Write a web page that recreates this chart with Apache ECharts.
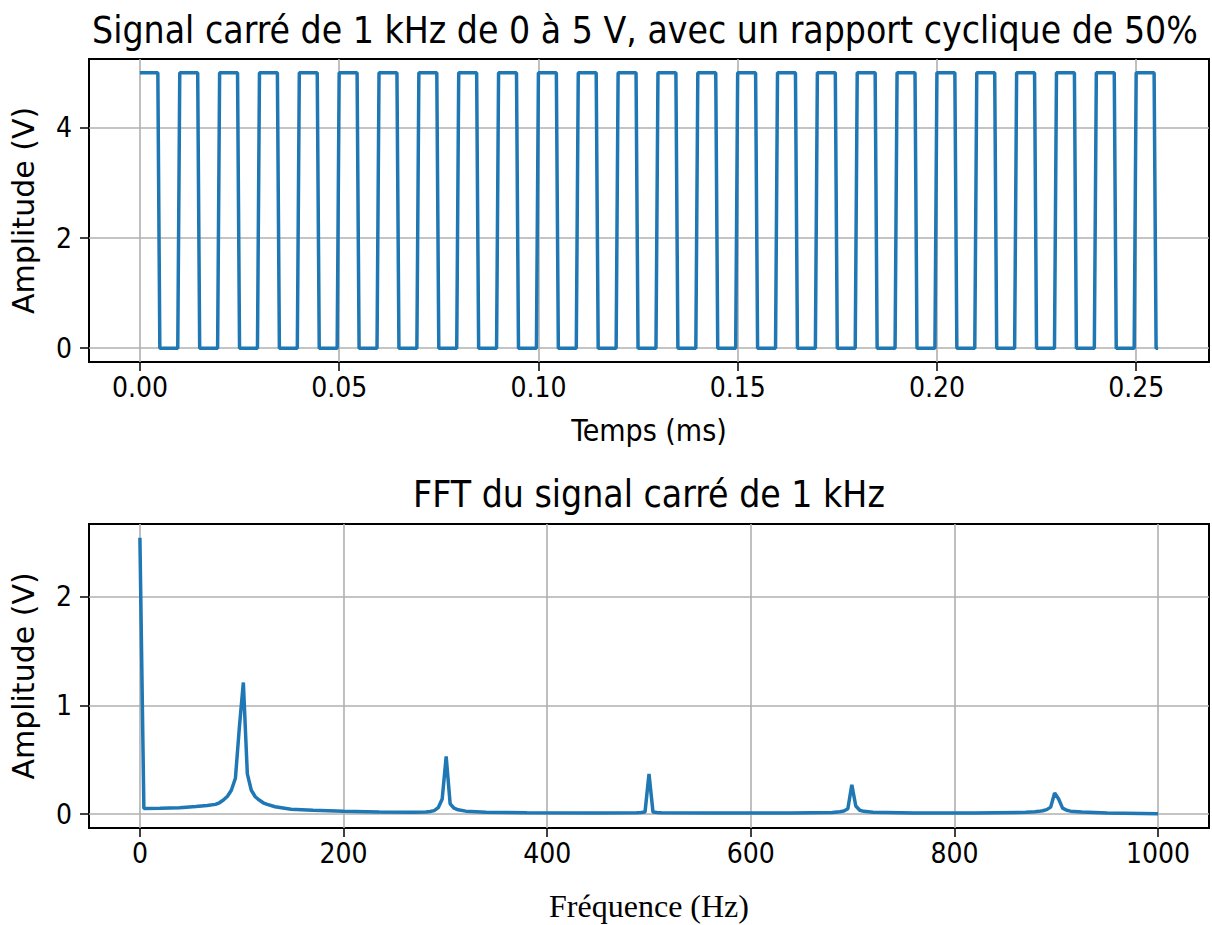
<!DOCTYPE html>
<html>
<head>
<meta charset="utf-8">
<script src="https://cdn.jsdelivr.net/npm/echarts@6/dist/echarts.min.js"></script>
<style>
  html, body { margin: 0; padding: 0; background: #fff; }
  #chart { width: 1212px; height: 925px; }
</style>
</head>
<body>
<div id="chart"></div>
<script>
// --- signal carré : coins de la courbe (temps en ms, tension en V)
const tempsMs = [
  0, 0.0045, 0.005, 0.0095,   0.01, 0.0145, 0.015, 0.0195,
  0.02, 0.0245, 0.025, 0.0295, 0.03, 0.0345, 0.035, 0.0395,
  0.04, 0.0445, 0.045, 0.0495, 0.05, 0.0545, 0.055, 0.0595,
  0.06, 0.0645, 0.065, 0.0695, 0.07, 0.0745, 0.075, 0.0795,
  0.08, 0.0845, 0.085, 0.0895, 0.09, 0.0945, 0.095, 0.0995,
  0.10, 0.1045, 0.105, 0.1095, 0.11, 0.1145, 0.115, 0.1195,
  0.12, 0.1245, 0.125, 0.1295, 0.13, 0.1345, 0.135, 0.1395,
  0.14, 0.1445, 0.145, 0.1495, 0.15, 0.1545, 0.155, 0.1595,
  0.16, 0.1645, 0.165, 0.1695, 0.17, 0.1745, 0.175, 0.1795,
  0.18, 0.1845, 0.185, 0.1895, 0.19, 0.1945, 0.195, 0.1995,
  0.20, 0.2045, 0.205, 0.2095, 0.21, 0.2145, 0.215, 0.2195,
  0.22, 0.2245, 0.225, 0.2295, 0.23, 0.2345, 0.235, 0.2395,
  0.24, 0.2445, 0.245, 0.2495, 0.25, 0.2545, 0.255, 0.2555
];
const tensionV = [
  5, 5, 0, 0, 5, 5, 0, 0,
  5, 5, 0, 0, 5, 5, 0, 0,
  5, 5, 0, 0, 5, 5, 0, 0,
  5, 5, 0, 0, 5, 5, 0, 0,
  5, 5, 0, 0, 5, 5, 0, 0,
  5, 5, 0, 0, 5, 5, 0, 0,
  5, 5, 0, 0, 5, 5, 0, 0,
  5, 5, 0, 0, 5, 5, 0, 0,
  5, 5, 0, 0, 5, 5, 0, 0,
  5, 5, 0, 0, 5, 5, 0, 0,
  5, 5, 0, 0, 5, 5, 0, 0,
  5, 5, 0, 0, 5, 5, 0, 0,
  5, 5, 0, 0, 5, 5, 0, 0
];
const ticksTemps = [0, 0.05, 0.1, 0.15, 0.2, 0.25];
const ticksTension = [0, 2, 4];

// --- spectre (FFT)
const frequencesHz = [
  0, 3.9, 20, 39, 55, 66, 74.2, 78.1, 82, 86,
  89.8, 93.8, 97.7, 101.6, 105.5, 109.4, 113.3, 117.2, 121.1, 125,
  132.8, 148.4, 170, 200, 235, 268, 281, 285, 289, 293,
  296.9, 300.8, 304.7, 308.6, 312.5, 320, 340, 380, 450, 488,
  492.2, 496.1, 500, 503.9, 507.8, 512, 560, 640, 680, 687.5,
  691.4, 695.3, 699.2, 703.1, 707, 710.9, 720, 760, 820, 870,
  879, 883, 886.7, 890.6, 894.5, 898.4, 902.3, 906.2, 910.2, 914,
  925, 950, 1000
];
const amplitudesFft = [
  2.54, 0.052, 0.054, 0.06, 0.07, 0.08, 0.09, 0.105, 0.13, 0.165,
  0.22, 0.33, 0.80, 1.21, 0.37, 0.22, 0.16, 0.13, 0.105, 0.09,
  0.068, 0.046, 0.036, 0.028, 0.02, 0.017, 0.021, 0.025, 0.033, 0.06,
  0.14, 0.53, 0.095, 0.055, 0.04, 0.028, 0.018, 0.014, 0.012, 0.013,
  0.015, 0.02, 0.37, 0.02, 0.015, 0.013, 0.011, 0.011, 0.016, 0.022,
  0.03, 0.05, 0.27, 0.075, 0.036, 0.026, 0.018, 0.011, 0.011, 0.017,
  0.022, 0.026, 0.032, 0.042, 0.065, 0.195, 0.14, 0.056, 0.036, 0.028,
  0.019, 0.012, 0.005
];
const ticksFreq = [0, 200, 400, 600, 800, 1000];
const ticksAmpl = [0, 1, 2];

// l'image d'origine est un peu tassée horizontalement : police condensée pour le texte horizontal
const SANS_H = '"DejaVu Sans Condensed", "DejaVu Sans"';
const SANS = 'DejaVu Sans';
const BLEU = '#1f77b4';

const chart = echarts.init(document.getElementById('chart'), null, { renderer: 'svg' });

// réglages communs des axes façon matplotlib
const axe = (gridIndex, min, max, ticks, fmt, margin) => ({
  gridIndex,
  type: 'value',
  min,
  max,
  axisLine: { show: false, onZero: false },
  axisTick: {
    show: true, length: 9, customValues: ticks,
    lineStyle: { color: '#000', width: 1.5 }
  },
  axisLabel: {
    customValues: ticks,
    formatter: fmt,
    margin,
    fontFamily: SANS_H,
    fontSize: 28,
    color: '#000'
  },
  splitLine: { show: true, lineStyle: { color: '#b0b0b0', width: 1.6 } }
});

const nomY = { fontFamily: SANS, fontSize: 30, color: '#000' };

const option = {
  animation: false,
  backgroundColor: '#fff',
  grid: [
    { left: 89, top: 59, width: 1120, height: 303, show: true, borderColor: '#000', borderWidth: 2 },
    { left: 89, top: 524, width: 1120, height: 304, show: true, borderColor: '#000', borderWidth: 2 }
  ],
  xAxis: [
    Object.assign(axe(0, -0.012775, 0.268275, ticksTemps, v => v.toFixed(2), 11), {
      name: 'Temps (ms)', nameLocation: 'middle', nameGap: 53,
      nameTextStyle: { fontFamily: SANS_H, fontSize: 30, color: '#000' }
    }),
    Object.assign(axe(1, -50, 1050, ticksFreq, v => String(Math.round(v)), 11), {
      name: 'Fréquence (Hz)', nameLocation: 'middle', nameGap: 62,
      nameTextStyle: { fontFamily: 'Liberation Serif', fontSize: 32, color: '#000' }
    })
  ],
  yAxis: [
    Object.assign(axe(0, -0.25, 5.25, ticksTension, v => String(Math.round(v)), 17), {
      name: 'Amplitude (V)', nameLocation: 'middle', nameGap: 51, nameTextStyle: nomY
    }),
    Object.assign(axe(1, -0.127, 2.667, ticksAmpl, v => String(Math.round(v)), 17), {
      name: 'Amplitude (V)', nameLocation: 'middle', nameGap: 51, nameTextStyle: nomY
    })
  ],
  graphic: [
    {
      type: 'text', x: 645, y: 30,
      style: {
        text: 'Signal carré de 1 kHz de 0 à 5 V, avec un rapport cyclique de 50%',
        font: '37px ' + SANS_H, fill: '#000', align: 'center', verticalAlign: 'middle'
      }
    },
    {
      type: 'text', x: 649, y: 494,
      style: {
        text: 'FFT du signal carré de 1 kHz',
        font: '37px ' + SANS_H, fill: '#000', align: 'center', verticalAlign: 'middle'
      }
    }
  ],
  series: [
    {
      type: 'line', xAxisIndex: 0, yAxisIndex: 0,
      data: tempsMs.map((t, i) => [t, tensionV[i]]),
      showSymbol: false,
      lineStyle: { color: BLEU, width: 3.5 }
    },
    {
      type: 'line', xAxisIndex: 1, yAxisIndex: 1,
      data: frequencesHz.map((f, i) => [f, amplitudesFft[i]]),
      showSymbol: false,
      lineStyle: { color: BLEU, width: 3.5 }
    }
  ]
};

chart.setOption(option);
</script>
</body>
</html>
